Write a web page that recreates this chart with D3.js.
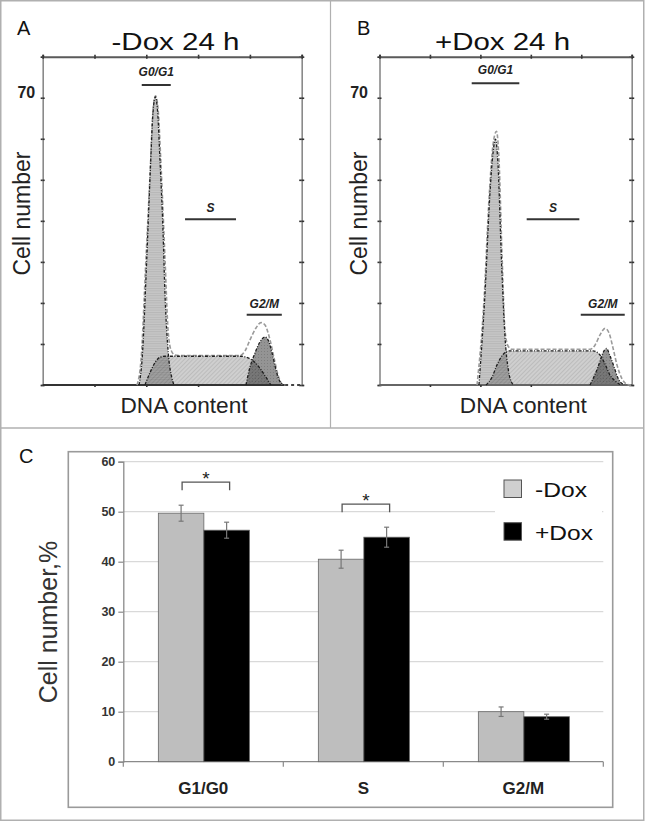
<!DOCTYPE html>
<html><head><meta charset="utf-8">
<script src="https://cdn.jsdelivr.net/npm/d3@7"></script>
<style>body{margin:0;background:#fff}svg{display:block}</style>
</head><body><svg id="fig" width="646" height="821"></svg>
<script>
// ---------- Panels A / B : DNA histograms (channel, cell count) ----------
const dnaDomain = [0, 250];
const countDomain = [0, 80];
const countTicks = [0, 10, 20, 30, 40, 50, 60, 70, 80];
const dnaTicks = [0, 50, 100, 150, 200, 250];
const countLabel = [70];

// -Dox 24 h
const minusG1 = [[93.0,0],[95.9,6.1],[100.4,30.5],[103.6,50.7],[106.5,66.5],[108.7,70.2],[110.8,67.0],[113.2,54.8],[116.1,37.8],[118.0,22.4],[121.2,7.8],[124.5,1.9],[126.7,0]];
const minusS = [[98.7,0],[103.9,3.2],[108.7,5.6],[113.5,6.8],[118.3,7.0],[190.5,7.0],[198.2,6.6],[204.9,5.5],[210.7,3.7],[215.5,1.9],[220.3,0]];
const minusG2 = [[196.2,0],[200.1,4.4],[204.9,7.8],[209.7,10.5],[214.6,11.7],[217.5,11.0],[221.4,7.8],[224.3,4.6],[227.2,1.9],[232.0,0]];
const minusEnv = [[91.0,0],[94.9,6.1],[99.7,30.9],[103.6,51.2],[106.5,67.0],[108.9,70.5],[111.3,67.5],[114.2,53.6],[118.1,30.5],[121.0,13.4],[123.9,8.5],[127.7,7.3],[132.5,7.2],[190.5,7.2],[195.3,8.3],[200.1,11.0],[205.9,13.9],[210.8,15.2],[214.6,14.6],[219.4,11.0],[223.3,6.6],[227.2,2.4],[231.1,0.2],[234.0,0]];

// +Dox 24 h
const plusG1 = [[98.6,0],[104.6,22.4],[109.5,46.8],[112.5,56.5],[115.0,59.9],[117.5,53.6],[120.9,30.5],[124.4,11.7],[127.7,3.7],[131.3,0.5],[133.3,0]];
const plusS = [[105.6,0],[111.5,1.9],[116.5,4.9],[121.4,7.1],[127.4,8.3],[211.7,8.3],[218.6,7.3],[223.6,5.1],[228.5,2.4],[233.5,1.0],[239.4,0]];
const plusG2 = [[208.7,0],[216.6,4.4],[221.5,7.8],[225.0,8.9],[228.5,7.1],[232.5,4.4],[236.4,1.7],[242.4,0]];
const plusEnv = [[96.7,0],[103.6,20.7],[108.5,45.1],[112.5,58.5],[116.0,61.8],[118.5,54.6],[121.5,31.4],[124.4,13.4],[127.4,9.5],[131.3,8.7],[208.7,8.7],[213.6,9.7],[218.6,12.2],[223.6,13.8],[227.5,12.7],[231.5,9.0],[235.4,4.9],[240.4,1.5],[245.3,0.2],[249.3,0]];

// gate bars [label, start, end, count level]
const minusGates = [["G0/G1",95.6,123.6,73.1],["S",137.4,186.6,40.4],["G2/M",196.9,230.8,17.1]];
const plusGates  = [["G0/G1",91.4,138.6,73.5],["S",145.9,198.1,40.4],["G2/M",199.5,243.1,17.1]];

// ---------- Panel C : bar chart ----------
const phases = ["G1/G0", "S", "G2/M"];
const seriesNames = ["-Dox", "+Dox"];
const minusDox = [49.7, 40.5, 10.0];
const plusDox  = [46.3, 44.9, 9.0];
const minusErr = [1.6, 1.8, 0.95];
const plusErr  = [1.6, 2.0, 0.5];
const pctTicks = [0, 10, 20, 30, 40, 50, 60];
const significant = [true, true, false];

const svg = d3.select("#fig");
const FONT = "Liberation Sans, Arial, sans-serif";

// patterns
const defs = svg.append("defs");
const pG1 = defs.append("pattern").attr("id","patG1").attr("width",4).attr("height",2.4).attr("patternUnits","userSpaceOnUse");
pG1.append("rect").attr("width",4).attr("height",2.4).attr("fill","#000").attr("fill-opacity",0.22);
pG1.append("line").attr("x1",0).attr("x2",4).attr("y1",0.6).attr("y2",0.6).attr("stroke","#000").attr("stroke-opacity",0.12).attr("stroke-width",0.8);
const pS = defs.append("pattern").attr("id","patS").attr("width",3).attr("height",3).attr("patternUnits","userSpaceOnUse").attr("patternTransform","rotate(45)");
pS.append("rect").attr("width",3).attr("height",3).attr("fill","#000").attr("fill-opacity",0.19);
pS.append("line").attr("x1",0.5).attr("x2",0.5).attr("y1",0).attr("y2",3).attr("stroke","#000").attr("stroke-opacity",0.1).attr("stroke-width",0.9);
const pG2 = defs.append("pattern").attr("id","patG2").attr("width",3).attr("height",3).attr("patternUnits","userSpaceOnUse");
pG2.append("rect").attr("width",3).attr("height",3).attr("fill","#000").attr("fill-opacity",0.42);
pG2.append("rect").attr("width",1).attr("height",1).attr("fill","#000").attr("fill-opacity",0.15);

svg.append("rect").attr("width",646).attr("height",821).attr("fill","#fff");

// outer borders
const bc = "#b0b0b0";
svg.append("rect").attr("x",0.75).attr("y",0.75).attr("width",643).attr("height",819.5).attr("fill","none").attr("stroke",bc).attr("stroke-width",1.5);
svg.append("line").attr("x1",330.5).attr("x2",330.5).attr("y1",0).attr("y2",428).attr("stroke",bc).attr("stroke-width",1.2);
svg.append("line").attr("x1",0).attr("x2",644).attr("y1",428).attr("y2",428).attr("stroke",bc).attr("stroke-width",1.5);

function histPanel(cfg) {
  const x = d3.scaleLinear().domain(dnaDomain).range([cfg.left, cfg.right]);
  const y = d3.scaleLinear().domain(countDomain).range([385, 56.7]);
  const g = svg.append("g");
  const area = d3.area().x(d => x(d[0])).y0(y(0)).y1(d => y(d[1])).curve(d3.curveMonotoneX);
  const line = d3.line().x(d => x(d[0])).y(d => y(d[1])).curve(d3.curveMonotoneX);

  // frame axes
  const axL = g.append("g").attr("transform",`translate(${cfg.left},0)`).call(d3.axisLeft(y).tickValues(countTicks).tickSize(2).tickFormat(""));
  const axL2 = g.append("g").attr("transform",`translate(${cfg.left},0)`).call(d3.axisRight(y).tickValues(countTicks).tickSize(2).tickFormat(""));
  const axR = g.append("g").attr("transform",`translate(${cfg.right},0)`).call(d3.axisRight(y).tickValues(countTicks).tickSize(2.5).tickFormat(""));
  const axR2 = g.append("g").attr("transform",`translate(${cfg.right},0)`).call(d3.axisLeft(y).tickValues(countTicks).tickSize(2.5).tickFormat(""));
  const axT = g.append("g").attr("transform",`translate(0,${y(80)})`).call(d3.axisTop(x).tickValues(dnaTicks).tickSize(2).tickFormat(""));
  const axT2 = g.append("g").attr("transform",`translate(0,${y(80)})`).call(d3.axisBottom(x).tickValues(dnaTicks).tickSize(2).tickFormat(""));
  [axL, axR].forEach(a => a.select(".domain").attr("stroke","#8a8a8a").attr("stroke-width",1.6));
  [axL2, axR2, axT2].forEach(a => a.select(".domain").remove());
  axT.select(".domain").attr("stroke","#5a5a5a").attr("stroke-width",2);
  g.selectAll(".tick line").attr("stroke","#333").attr("stroke-width",1.6);

  // fills
  g.append("path").datum(cfg.s).attr("d", area).attr("fill","url(#patS)");
  g.append("path").datum(cfg.g1).attr("d", area).attr("fill","url(#patG1)");
  g.append("path").datum(cfg.g2).attr("d", area).attr("fill","url(#patG2)");

  // baseline
  const envEnd = cfg.env[cfg.env.length-1][0];
  g.append("line").attr("x1",x(0)).attr("x2",x(envEnd)).attr("y1",y(0)).attr("y2",y(0)).attr("stroke",cfg.baseColor).attr("stroke-width",1.8);
  g.append("line").attr("x1",x(envEnd)).attr("x2",x(250)).attr("y1",y(0)).attr("y2",y(0)).attr("stroke","#444").attr("stroke-width",1.8).attr("stroke-dasharray","3,3");
  const axB = g.append("g").attr("transform",`translate(0,${y(0)})`).call(d3.axisBottom(x).tickValues(dnaTicks.slice(1,4)).tickSize(2).tickFormat(""));
  axB.select(".domain").remove();
  axB.selectAll(".tick line").attr("stroke","#333").attr("stroke-width",1.6);

  // envelope (dashed light)
  g.append("path").datum(cfg.env).attr("d", line).attr("fill","none").attr("stroke","#9a9a9a").attr("stroke-width",1.6).attr("stroke-dasharray","4,2");
  // component outlines (dash-dot)
  [cfg.s, cfg.g1, cfg.g2].forEach(d => {
    g.append("path").datum(d).attr("d", line).attr("fill","none").attr("stroke","#1e1e1e").attr("stroke-width",1.3).attr("stroke-dasharray","3,1.5,1,1.5");
  });

  // gates
  cfg.gates.forEach(([lab, a, b, lvl]) => {
    g.append("line").attr("x1",x(a)).attr("x2",x(b)).attr("y1",y(lvl)).attr("y2",y(lvl)).attr("stroke","#333").attr("stroke-width",2);
    g.append("text").attr("x",(x(a)+x(b))/2).attr("y",y(lvl)-(lab==="G0/G1"?9:7))
      .attr("text-anchor","middle").attr("font-family",FONT).attr("font-size",12)
      .attr("font-weight","bold").attr("font-style","italic").attr("fill","#222").text(lab);
  });

  // labels
  g.append("text").attr("x",cfg.left - cfg.lblOff).attr("y",y(countLabel[0])).attr("text-anchor","end")
    .attr("font-family",FONT).attr("font-weight","bold").attr("font-size",16).attr("fill","#222").text(countLabel[0]);
  g.append("text").attr("transform",`translate(${cfg.yLabX},213.5) rotate(-90)`).attr("text-anchor","middle")
    .attr("font-family",FONT).attr("font-size",23).attr("fill","#222").text("Cell number");
  g.append("text").attr("x",cfg.dnaX).attr("y",412.5).attr("text-anchor","middle")
    .attr("font-family",FONT).attr("font-size",22).attr("fill","#222").attr("textLength",127).attr("lengthAdjust","spacingAndGlyphs").text("DNA content");
  g.append("text").attr("x",cfg.titleX).attr("y",49.5).attr("text-anchor","middle")
    .attr("font-family",FONT).attr("font-size",23.5).attr("fill","#111").attr("textLength",cfg.titleW).attr("lengthAdjust","spacingAndGlyphs").text(cfg.title);
  g.append("text").attr("x",cfg.letterX).attr("y",35).attr("font-family",FONT).attr("font-size",20).attr("fill","#111").text(cfg.letter);
}

histPanel({left:42.7, right:301.7, g1:minusG1, s:minusS, g2:minusG2, env:minusEnv, gates:minusGates,
  baseColor:"#333", lblOff:7.5, yLabX:30, dnaX:184, titleX:175.5, titleW:128, title:"-Dox 24 h", letter:"A", letterX:17});
histPanel({left:379.5, right:631.7, g1:plusG1, s:plusS, g2:plusG2, env:plusEnv, gates:plusGates,
  baseColor:"#666", lblOff:11.5, yLabX:366.5, dnaX:523.3, titleX:502.5, titleW:135, title:"+Dox 24 h", letter:"B", letterX:357});

// ---------- Panel C ----------
svg.append("rect").attr("x",68.3).attr("y",451.7).attr("width",544.4).attr("height",355.6).attr("fill","#fff").attr("stroke","#9a9a9a").attr("stroke-width",1.6);
svg.append("text").attr("x",19).attr("y",463).attr("font-family",FONT).attr("font-size",20).attr("fill","#111").text("C");

const cx0 = d3.scaleBand().domain(phases).range([123.3, 603.3]);
const bw = cx0.bandwidth();
const cx1 = d3.scaleBand().domain(seriesNames).range([bw*0.219, bw*0.788]);
const cy = d3.scaleLinear().domain([0, 60]).range([761.7, 461.7]);
const gc = svg.append("g");

// grid
gc.append("g").selectAll("line").data(pctTicks.slice(1)).join("line")
  .attr("x1",cx0.range()[0]).attr("x2",cx0.range()[1]).attr("y1",d=>cy(d)).attr("y2",d=>cy(d))
  .attr("stroke","#d9d9d9").attr("stroke-width",1.3);

// legend background (covers grid)
gc.append("rect").attr("x",495).attr("y",468).attr("width",107).attr("height",82).attr("fill","#fff");

// y axis
const yAx = gc.append("g").attr("transform","translate(123.3,0)").call(d3.axisLeft(cy).tickValues(pctTicks).tickSize(5).tickPadding(3));
yAx.select(".domain").attr("stroke","#8a8a8a").attr("stroke-width",1.3);
yAx.selectAll(".tick line").attr("stroke","#8a8a8a").attr("stroke-width",1.2);
yAx.selectAll(".tick text").attr("font-family",FONT).attr("font-weight","bold").attr("font-size",12.5).attr("fill","#333");

// x axis
const xAx = gc.append("g").attr("transform",`translate(0,${cy(0)})`);
xAx.append("line").attr("x1",cx0.range()[0]).attr("x2",cx0.range()[1]).attr("stroke","#8a8a8a").attr("stroke-width",1.3);
xAx.selectAll(".bt").data(phases.map(p=>cx0(p)).concat([cx0.range()[1]])).join("line").attr("class","bt")
  .attr("x1",d=>d).attr("x2",d=>d).attr("y1",0).attr("y2",5).attr("stroke","#8a8a8a").attr("stroke-width",1.2);
xAx.selectAll("text").data(phases).join("text").attr("x",d=>cx0(d)+bw/2).attr("y",32.5).attr("text-anchor","middle")
  .attr("font-family",FONT).attr("font-weight","bold").attr("font-size",17).attr("fill","#222").text(d=>d);

// bars
const seriesVals = [minusDox, plusDox];
const seriesErr = [minusErr, plusErr];
const seriesFill = ["#bebebe", "#000"];
seriesNames.forEach((s, si) => {
  gc.append("g").selectAll("rect").data(phases).join("rect")
    .attr("x", d => cx0(d) + cx1(s)).attr("width", cx1.bandwidth())
    .attr("y", (d,i) => cy(seriesVals[si][i])).attr("height", (d,i) => cy(0) - cy(seriesVals[si][i]))
    .attr("fill", seriesFill[si]).attr("stroke","#666").attr("stroke-width",0.8);
});
// error bars
seriesNames.forEach((s, si) => {
  phases.forEach((p, i) => {
    const xc = cx0(p) + cx1(s) + cx1.bandwidth()/2;
    const v = seriesVals[si][i], e = seriesErr[si][i];
    const col = "#777";
    gc.append("line").attr("x1",xc).attr("x2",xc).attr("y1",cy(v+e)).attr("y2",cy(v-e)).attr("stroke",col).attr("stroke-width",1.2);
    [v+e, v-e].forEach(t => gc.append("line").attr("x1",xc-2.5).attr("x2",xc+2.5).attr("y1",cy(t)).attr("y2",cy(t)).attr("stroke",col).attr("stroke-width",1.2));
  });
});
// significance brackets
phases.forEach((p, i) => {
  if (!significant[i]) return;
  const top = Math.max(minusDox[i]+minusErr[i], plusDox[i]+plusErr[i]) + 4.6;
  const xa = cx0(p) + cx1("-Dox") + cx1.bandwidth()/2 + 1;
  const xb = cx0(p) + cx1("+Dox") + cx1.bandwidth()/2 + 3;
  gc.append("path").attr("d",`M${xa},${cy(top-1.6)}V${cy(top)}H${xb}V${cy(top-1.6)}`)
    .attr("fill","none").attr("stroke","#555").attr("stroke-width",1.3);
  gc.append("text").attr("x",(xa+xb)/2).attr("y",cy(top)+3).attr("text-anchor","middle")
    .attr("font-family",FONT).attr("font-size",19).attr("fill","#222").text("*");
});

// legend
seriesNames.forEach((s, si) => {
  const ly = 480 + si*42.7;
  gc.append("rect").attr("x",504).attr("y",ly).attr("width",17.5).attr("height",17.5).attr("fill",si===0?"#cfcfcf":"#000").attr("stroke","#555").attr("stroke-width",1);
  gc.append("text").attr("x",535).attr("y",ly+17).attr("font-family",FONT).attr("font-size",21).attr("fill","#111")
    .attr("textLength",si===0?52:58).attr("lengthAdjust","spacingAndGlyphs").text(s);
});

// y label
gc.append("text").attr("transform","translate(56.5,622) rotate(-90)").attr("text-anchor","middle")
  .attr("font-family",FONT).attr("font-size",25).attr("fill","#333").text("Cell number,%");
</script></body></html>
